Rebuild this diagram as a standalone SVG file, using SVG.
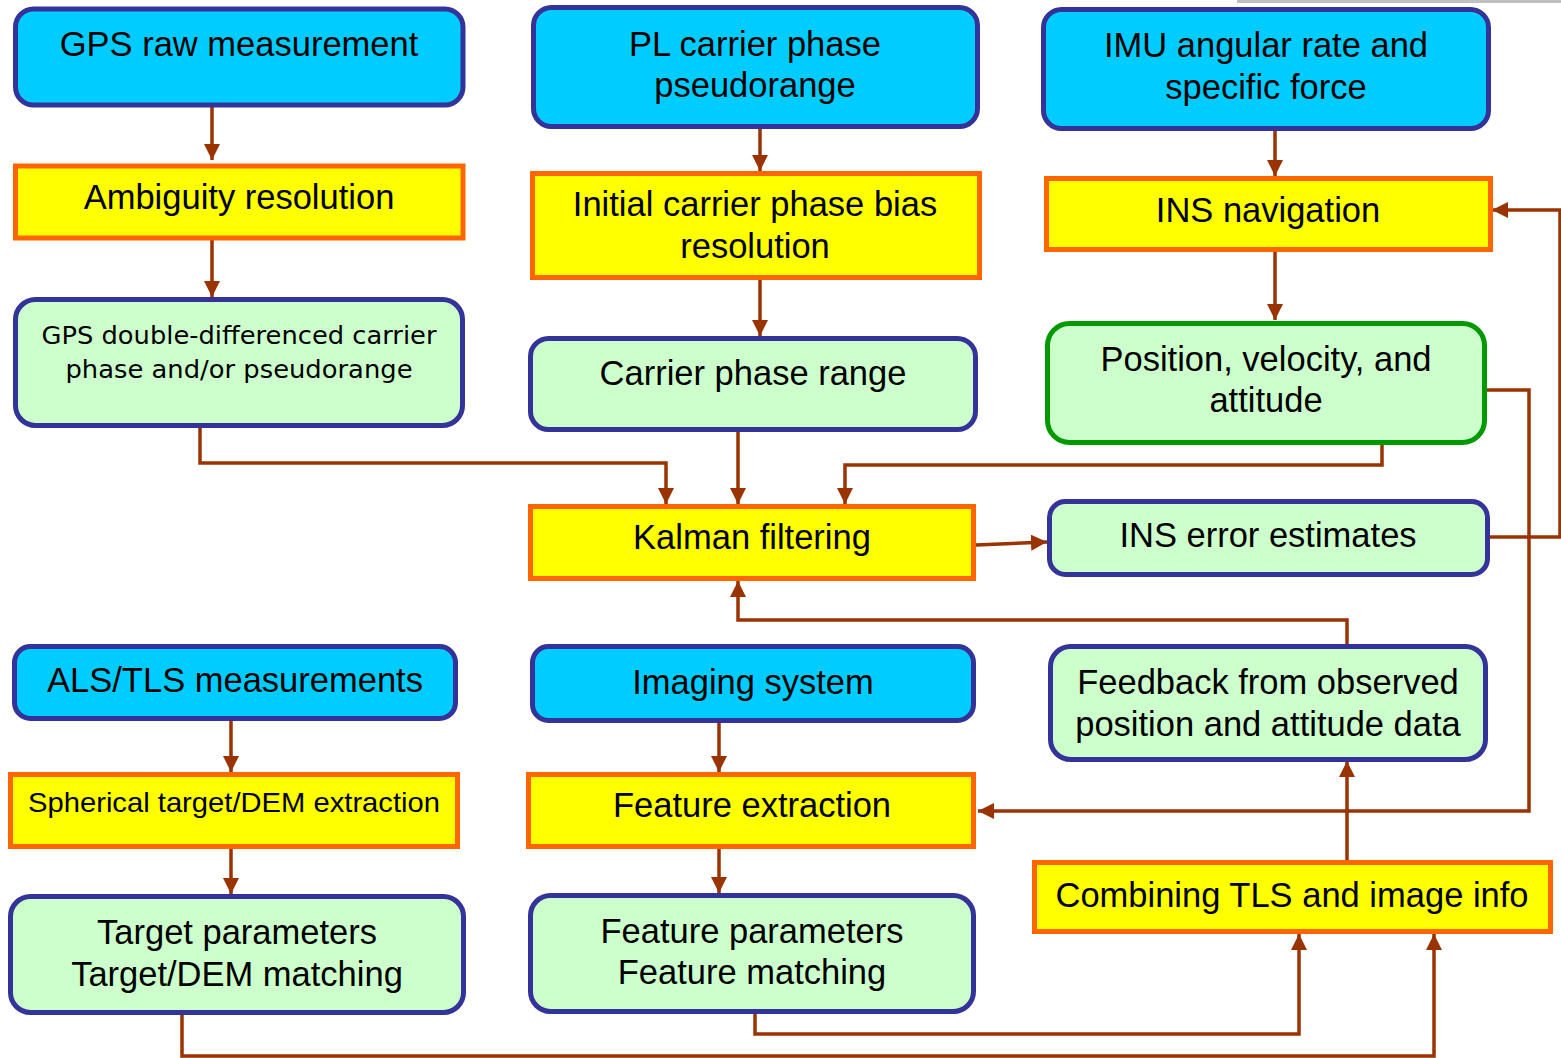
<svg xmlns="http://www.w3.org/2000/svg" width="1561" height="1058" viewBox="0 0 1561 1058">
<defs>
<style>
.src{fill:#00ccff;stroke:#333399;stroke-width:5}
.proc{fill:#ffff00;stroke:#ff6600;stroke-width:5}
.res{fill:#ccffcc;stroke:#333399;stroke-width:5}
.resg{fill:#ccffcc;stroke:#009900;stroke-width:5}
text{font-family:"Liberation Sans",Arial,sans-serif;font-size:34.5px;fill:#000;text-anchor:middle}
.tah{font-family:"DejaVu Sans",Verdana,sans-serif;font-size:25px}
.conn{fill:none;stroke:#993300;stroke-width:3.5;stroke-linejoin:miter}
</style>
<marker id="ah" markerUnits="userSpaceOnUse" markerWidth="16" markerHeight="16" viewBox="0 0 16 16" refX="16" refY="8" orient="auto">
<path d="M0,0 L16,8 L0,16 z" fill="#993300"/>
</marker>
</defs>
<rect width="1561" height="1058" fill="#ffffff"/>
<rect x="1237" y="0" width="324" height="3" fill="#c0c0c0"/>

<g id="connectors">
<path class="conn" d="M212,105 V160" marker-end="url(#ah)"/>
<path class="conn" d="M212,238 V297" marker-end="url(#ah)"/>
<path class="conn" d="M760,127 V171" marker-end="url(#ah)"/>
<path class="conn" d="M760,278 V336" marker-end="url(#ah)"/>
<path class="conn" d="M1275,129 V176" marker-end="url(#ah)"/>
<path class="conn" d="M1275,250 V320" marker-end="url(#ah)"/>
<path class="conn" d="M200,426 V463 H666 V504" marker-end="url(#ah)"/>
<path class="conn" d="M738,430 V504" marker-end="url(#ah)"/>
<path class="conn" d="M1382,443 V465 H845 V504" marker-end="url(#ah)"/>
<path class="conn" d="M976,545 L1047,542" marker-end="url(#ah)"/>
<path class="conn" d="M1488,537 H1560 V210 H1492" marker-end="url(#ah)"/>
<path class="conn" d="M1486,390 H1529 V811 H978" marker-end="url(#ah)"/>
<path class="conn" d="M1347,646 V620 H738 V581" marker-end="url(#ah)"/>
<path class="conn" d="M1347,862 V761" marker-end="url(#ah)"/>
<path class="conn" d="M231,719 V772" marker-end="url(#ah)"/>
<path class="conn" d="M719,721 V772" marker-end="url(#ah)"/>
<path class="conn" d="M231,847 V894" marker-end="url(#ah)"/>
<path class="conn" d="M719,847 V893" marker-end="url(#ah)"/>
<path class="conn" d="M755,1012 V1034 H1299 V934" marker-end="url(#ah)"/>
<path class="conn" d="M182,1013 V1056 H1434 V934" marker-end="url(#ah)"/>
</g>

<g id="gps-raw"><rect class="src" x="15.5" y="9" width="447.5" height="96" rx="18"/><text x="239" y="56">GPS raw measurement</text></g>
<g id="pl-carrier"><rect class="src" x="533.5" y="7.5" width="444" height="119" rx="18"/><text x="755" y="56">PL carrier phase</text><text x="755" y="97">pseudorange</text></g>
<g id="imu"><rect class="src" x="1043.5" y="9.5" width="445" height="119" rx="18"/><text x="1266" y="57">IMU angular rate and</text><text x="1266" y="99">specific force</text></g>

<g id="ambiguity"><rect class="proc" x="15.5" y="166" width="447.5" height="72"/><text x="239" y="209">Ambiguity resolution</text></g>
<g id="initial-bias"><rect class="proc" x="532.5" y="173.5" width="447" height="104"/><text x="755" y="216">Initial carrier phase bias</text><text x="755" y="258">resolution</text></g>
<g id="ins-nav"><rect class="proc" x="1046.5" y="178.5" width="444" height="71"/><text x="1268" y="222">INS navigation</text></g>

<g id="gps-dd"><rect class="res" x="15.5" y="299.5" width="447" height="126" rx="20"/><text class="tah" x="239" y="344" textLength="395" lengthAdjust="spacingAndGlyphs">GPS double-differenced carrier</text><text class="tah" x="239" y="378" textLength="347" lengthAdjust="spacingAndGlyphs">phase and/or pseudorange</text></g>
<g id="carrier-range"><rect class="res" x="530.5" y="338.5" width="445" height="91" rx="18"/><text x="753" y="385">Carrier phase range</text></g>
<g id="pva"><rect class="resg" x="1047.5" y="323.5" width="437" height="119" rx="22"/><text x="1266" y="371">Position, velocity, and</text><text x="1266" y="412">attitude</text></g>

<g id="kalman"><rect class="proc" x="530.5" y="506.5" width="443" height="72"/><text x="752" y="549">Kalman filtering</text></g>
<g id="ins-error"><rect class="res" x="1049.5" y="501.5" width="438" height="73" rx="16"/><text x="1268" y="547">INS error estimates</text></g>

<g id="als-tls"><rect class="src" x="14.5" y="646.5" width="441" height="72" rx="16"/><text x="235" y="692">ALS/TLS measurements</text></g>
<g id="imaging"><rect class="src" x="532.5" y="646.5" width="441" height="74" rx="16"/><text x="753" y="694">Imaging system</text></g>
<g id="feedback"><rect class="res" x="1050.5" y="646.5" width="435" height="113" rx="20"/><text x="1268" y="694">Feedback from observed</text><text x="1268" y="736">position and attitude data</text></g>

<g id="spherical"><rect class="proc" x="10.5" y="774.5" width="447" height="72"/><text x="234" y="812" style="font-size:28px" textLength="412" lengthAdjust="spacingAndGlyphs">Spherical target/DEM extraction</text></g>
<g id="feature-extraction"><rect class="proc" x="528.5" y="774.5" width="445" height="72"/><text x="752" y="817">Feature extraction</text></g>
<g id="combining"><rect class="proc" x="1034.5" y="862.5" width="516" height="69"/><text x="1292" y="907">Combining TLS and image info</text></g>

<g id="target-params"><rect class="res" x="10.5" y="896.5" width="453" height="116" rx="20"/><text x="237" y="944">Target parameters</text><text x="237" y="986">Target/DEM matching</text></g>
<g id="feature-params"><rect class="res" x="530.5" y="895.5" width="443" height="116" rx="20"/><text x="752" y="943">Feature parameters</text><text x="752" y="984">Feature matching</text></g>
</svg>
